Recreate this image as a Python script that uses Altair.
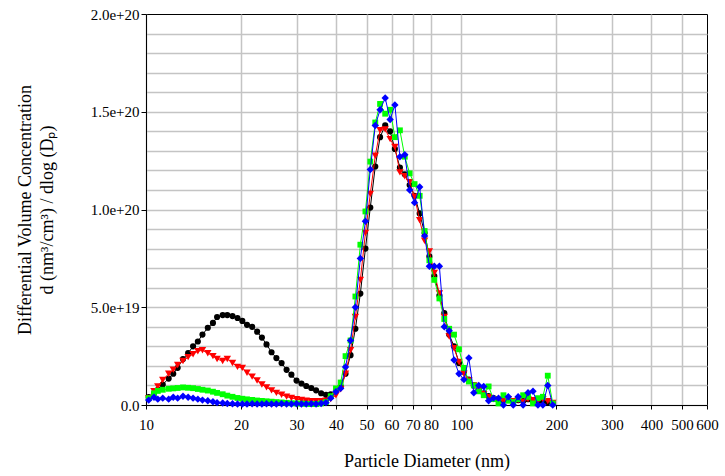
import altair as alt
import pandas as pd

# Particle diameter bins (nm)
diameter_nm = [10.2, 10.6, 10.9, 11.3, 11.8, 12.2, 12.6, 13.1, 13.6, 14.1, 14.6, 15.1, 15.7, 16.3, 16.8, 17.5, 18.1, 18.8, 19.5,
               20.2, 20.9, 21.7, 22.5, 23.3, 24.1, 25.0, 25.9, 26.9, 27.9, 28.9, 30.0, 31.1, 32.2, 33.4, 34.6, 35.9, 37.2, 38.5,
               40.0, 41.4, 42.9, 44.5, 46.1, 47.8, 49.6, 51.4, 53.3, 55.2, 57.3, 59.4, 61.5, 63.8, 66.1, 68.5, 71.0, 73.7, 76.4,
               79.1, 82.0, 85.1, 88.2, 91.4, 94.7, 98.2, 101.8, 105.5, 109.4, 113.4, 117.6, 121.9, 126.3, 131.0, 135.8, 140.7, 145.9, 151.2,
               156.8, 162.5, 168.5, 174.7, 181.1, 187.7, 194.6]

# Values in units of 1e19 nm^3/cm^3
black_1e19 = [0.40, 0.60, 0.77, 1.05, 1.35, 1.60, 1.90, 2.35, 2.65, 3.00, 3.25, 3.60, 3.95, 4.20, 4.50, 4.60, 4.60, 4.55, 4.45,
              4.30, 4.10, 4.00, 3.75, 3.45, 3.10, 2.70, 2.40, 2.15, 1.80, 1.55, 1.25, 1.10, 0.97, 0.87, 0.75, 0.60, 0.52, 0.55,
              0.75, 0.95, 1.60, 2.55, 3.90, 5.70, 8.00, 10.10, 12.20, 13.70, 14.30, 14.00, 13.10, 12.15, 11.80, 11.25, 10.70, 9.80, 8.80,
              7.60, 6.60, 5.60, 4.70, 3.60, 3.00, 2.15, 1.70, 1.30, 1.00, 0.80, 0.60, 0.45, 0.35, 0.30, 0.25, 0.30, 0.20, 0.25,
              0.20, 0.30, 0.20, 0.15, 0.20, 0.15, 0.10]

red_1e19 = [0.35, 0.70, 0.95, 1.28, 1.60, 1.80, 2.05, 2.25, 2.45, 2.60, 2.75, 2.80, 2.65, 2.50, 2.35, 2.25, 2.35, 2.15, 1.95,
            1.90, 1.65, 1.45, 1.25, 1.05, 0.90, 0.75, 0.62, 0.52, 0.43, 0.36, 0.30, 0.26, 0.22, 0.20, 0.20, 0.20, 0.22, 0.30,
            0.50, 0.80, 1.60, 2.80, 4.50, 6.40, 8.80, 10.80, 12.75, 14.05, 14.10, 13.60, 13.20, 11.90, 11.70, 11.40, 10.65, 9.45, 8.40,
            7.85, 6.75, 5.70, 4.50, 3.50, 2.90, 2.20, 1.60, 1.25, 1.00, 0.80, 0.55, 0.40, 0.30, 0.25, 0.20, 0.30, 0.20, 0.25,
            0.15, 0.30, 0.25, 0.20, 0.30, 0.20, 0.10]

green_1e19 = [0.35, 0.60, 0.72, 0.78, 0.83, 0.85, 0.87, 0.90, 0.88, 0.86, 0.82, 0.78, 0.74, 0.68, 0.62, 0.55, 0.48, 0.42, 0.36,
              0.32, 0.29, 0.26, 0.23, 0.21, 0.19, 0.17, 0.15, 0.13, 0.11, 0.09, 0.08, 0.07, 0.06, 0.05, 0.05, 0.08, 0.15, 0.45,
              0.85, 1.15, 2.50, 3.30, 5.55, 8.20, 9.90, 12.45, 14.45, 15.40, 14.90, 15.10, 13.70, 14.05, 12.70, 11.85, 11.30, 10.70, 8.90,
              7.40, 6.40, 5.45, 4.40, 3.90, 3.60, 2.85, 1.90, 1.20, 1.00, 0.70, 0.50, 0.95, 0.30, 0.08, 0.50, 0.22, 0.15, 0.30,
              0.50, 0.42, 0.08, 0.35, 0.42, 1.50, 0.08]

blue_1e19 = [0.25, 0.40, 0.30, 0.35, 0.30, 0.40, 0.35, 0.45, 0.40, 0.35, 0.30, 0.25, 0.22, 0.17, 0.12, 0.10, 0.08, 0.06, 0.05,
             0.05, 0.05, 0.06, 0.05, 0.05, 0.06, 0.05, 0.05, 0.06, 0.05, 0.05, 0.06, 0.05, 0.05, 0.06, 0.05, 0.08, 0.12, 0.35,
             0.68, 0.85, 1.95, 3.30, 5.00, 7.50, 9.40, 12.05, 14.30, 15.10, 15.70, 14.60, 15.35, 12.70, 12.80, 11.00, 10.35, 11.15, 8.65,
             7.10, 7.10, 7.10, 4.00, 3.80, 2.30, 1.60, 1.30, 2.40, 0.63, 1.00, 0.95, 0.22, 0.35, 0.35, 0.00, 0.42, 0.00, 0.42,
             0.00, 0.63, 0.70, 0.00, 0.00, 1.00, 0.00]

series_names = ["S1", "S2", "S3", "S4"]
series_values = [black_1e19, red_1e19, green_1e19, blue_1e19]
series_colors = ["#000000", "#ff0000", "#00ff00", "#0000ff"]
series_shapes = ["circle", "triangle-down", "square", "diamond"]
series_sizes = [38, 55, 34, 55]

x_ticks = [10, 20, 30, 40, 50, 60, 70, 80, 100, 200, 300, 400, 500, 600]
y_ticks = [0, 1e19, 2e19, 3e19, 4e19, 5e19, 6e19, 7e19, 8e19, 9e19, 1e20,
           1.1e20, 1.2e20, 1.3e20, 1.4e20, 1.5e20, 1.6e20, 1.7e20, 1.8e20, 1.9e20, 2e20]

rows = []
for name, vals in zip(series_names, series_values):
    for d, v in zip(diameter_nm, vals):
        rows.append({"series": name, "d": d, "v": v * 1e19})
df = pd.DataFrame(rows)

FONT = "Liberation Serif"
major = "abs(datum.value % 5e19) < 1e15"

x_enc = alt.X(
    "d:Q",
    scale=alt.Scale(type="log", domain=[10, 600], nice=False),
    axis=alt.Axis(
        values=x_ticks, format="d", labelOverlap=False, labelFlush=False,
        grid=True, gridColor="#c4c4c4", gridWidth=1.5,
        gridOpacity={"condition": {"test": "datum.value >= 600", "value": 0}, "value": 1},
        tickSize=4, tickColor="#000000", domainColor="#000000",
        labelFont=FONT, labelFontSize=15, labelColor="#000000", labelPadding=8,
        title="Particle Diameter (nm)", titleFont=FONT, titleFontSize=18,
        titleFontWeight="normal", titleColor="#000000", titlePadding=20,
    ),
)
y_enc = alt.Y(
    "v:Q",
    scale=alt.Scale(domain=[0, 2e20], nice=False, zero=True),
    axis=alt.Axis(
        values=y_ticks, labelOverlap=False, labelFlush=False,
        labelExpr=f"{major} ? (datum.value == 0 ? '0.0' : format(datum.value, '.1e')) : ''",
        grid=True, gridColor="#c4c4c4", gridWidth=1.5,
        gridOpacity={"condition": {"test": "datum.value >= 2e20", "value": 0}, "value": 1},
        tickSize=5, tickColor="#000000",
        tickOpacity={"condition": {"test": major, "value": 1}, "value": 0},
        domainColor="#000000",
        labelFont=FONT, labelFontSize=15, labelColor="#000000", labelPadding=2,
        title=["Differential Volume Concentration", "d (nm³/cm³) / dlog (Dₚ)"],
        titleFont=FONT, titleFontSize=18, titleFontWeight="normal", titleColor="#000000",
        titleLineHeight=22, titlePadding=34,
    ),
)

layers = []
for name, color, shape, size in zip(series_names, series_colors, series_shapes, series_sizes):
    layers.append(
        alt.Chart(df[df["series"] == name]).mark_line(
            color=color, strokeWidth=1,
            point=alt.OverlayMarkDef(shape=shape, size=size, filled=True, color=color, opacity=1),
        ).encode(x=x_enc, y=y_enc, order="d:Q")
    )

chart = alt.layer(*layers).properties(
    width=561, height=391,
    autosize=alt.AutoSizeParams(type="none"),
    padding={"left": 146, "top": 14, "right": 18, "bottom": 71},
    background="#ffffff",
).configure_view(stroke="#000000", strokeWidth=1)

chart.save("out.html", embed_options={"renderer": "svg", "actions": False})
